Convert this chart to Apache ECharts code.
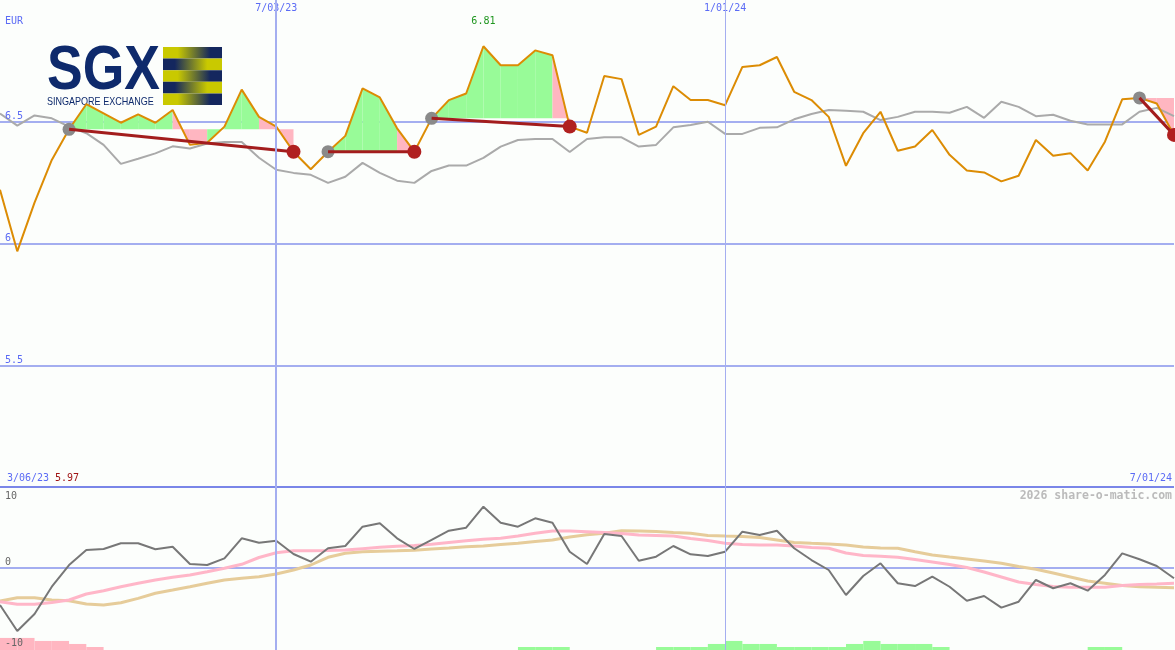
<!DOCTYPE html>
<html><head><meta charset="utf-8">
<script src="https://cdn.jsdelivr.net/npm/echarts@6/dist/echarts.min.js"></script>
<style>html,body{margin:0;padding:0;background:#fcfefc;}#c{width:1175px;height:650px;}</style>
</head><body><div id="c"></div>
<script>
// ---- data (weekly) ----
const DATES = ['3/13/23','3/20/23','3/27/23','4/03/23','4/10/23','4/17/23','4/24/23','5/01/23','5/08/23','5/15/23',
 '5/22/23','5/29/23','6/05/23','6/12/23','6/19/23','6/26/23','7/03/23','7/10/23','7/17/23','7/24/23',
 '7/31/23','8/07/23','8/14/23','8/21/23','8/28/23','9/04/23','9/11/23','9/18/23','9/25/23','10/02/23',
 '10/09/23','10/16/23','10/23/23','10/30/23','11/06/23','11/13/23','11/20/23','11/27/23','12/04/23','12/11/23',
 '12/18/23','12/25/23','1/01/24','1/08/24','1/15/24','1/22/24','1/29/24','2/05/24','2/12/24','2/19/24',
 '2/26/24','3/04/24','3/11/24','3/18/24','3/25/24','4/01/24','4/08/24','4/15/24','4/22/24','4/29/24',
 '5/06/24','5/13/24','5/20/24','5/27/24','6/03/24','6/10/24','6/17/24','6/24/24','7/01/24'];
const LABELLED_DATES = ['7/03/23','1/01/24'];
const PRICE = [6.221,5.968,6.168,6.343,6.469,6.572,6.534,6.496,6.530,6.496,
 6.548,6.405,6.414,6.480,6.632,6.520,6.480,6.377,6.305,6.377,
 6.442,6.637,6.600,6.473,6.377,6.514,6.589,6.616,6.810,6.732,
 6.732,6.793,6.773,6.480,6.455,6.688,6.675,6.446,6.480,6.646,
 6.589,6.589,6.568,6.725,6.732,6.766,6.623,6.589,6.520,6.319,
 6.453,6.541,6.381,6.398,6.466,6.364,6.300,6.292,6.255,6.278,
 6.425,6.360,6.371,6.300,6.418,6.592,6.598,6.575,6.446];
const PRICE_AVG = [6.534,6.484,6.526,6.514,6.480,6.453,6.405,6.327,6.348,6.370,
 6.399,6.390,6.411,6.417,6.417,6.352,6.303,6.290,6.282,6.249,
 6.274,6.331,6.290,6.258,6.249,6.298,6.320,6.320,6.352,6.398,
 6.425,6.429,6.429,6.376,6.429,6.436,6.436,6.398,6.405,6.477,
 6.487,6.500,6.450,6.450,6.475,6.477,6.510,6.532,6.548,6.545,
 6.541,6.507,6.520,6.541,6.541,6.537,6.561,6.516,6.582,6.561,
 6.523,6.529,6.504,6.489,6.489,6.489,6.541,6.557,6.523];
const OSC = [-4.66,-7.89,-5.78,-2.39,0.31,2.17,2.30,3.01,3.01,2.26,
 2.58,0.43,0.31,1.14,3.63,3.08,3.33,1.68,0.72,2.39,
 2.67,5.07,5.49,3.63,2.30,3.42,4.57,4.94,7.55,5.57,
 5.07,6.11,5.57,1.96,0.43,4.16,3.91,0.84,1.34,2.67,
 1.64,1.43,1.96,4.45,4.04,4.57,2.39,0.93,-0.31,-3.42,
 -1.06,0.52,-1.96,-2.30,-1.14,-2.39,-4.12,-3.54,-4.99,-4.25,
 -1.55,-2.58,-1.96,-2.88,-0.93,1.76,1.02,0.19,-1.34];
const OSC_FAST = [-4.25,-4.57,-4.57,-4.35,-4.04,-3.29,-2.88,-2.39,-1.96,-1.55,
 -1.22,-0.93,-0.52,-0.10,0.40,1.24,1.84,2.09,2.09,2.11,
 2.17,2.34,2.51,2.63,2.73,2.88,3.11,3.33,3.50,3.63,
 3.91,4.25,4.53,4.53,4.45,4.35,4.22,4.04,3.98,3.91,
 3.60,3.35,3.01,2.86,2.80,2.80,2.67,2.48,2.39,1.80,
 1.49,1.40,1.27,0.99,0.68,0.37,0.00,-0.56,-1.18,-1.80,
 -2.11,-2.36,-2.46,-2.46,-2.46,-2.24,-2.11,-2.05,-1.96];
const OSC_SLOW = [-4.16,-3.75,-3.75,-4.04,-4.12,-4.53,-4.66,-4.37,-3.83,-3.20,
 -2.80,-2.39,-1.96,-1.55,-1.34,-1.14,-0.81,-0.31,0.31,1.27,
 1.76,1.96,2.02,2.07,2.15,2.30,2.42,2.58,2.67,2.86,
 3.01,3.23,3.42,3.79,4.07,4.25,4.57,4.53,4.47,4.35,
 4.25,3.98,3.91,3.85,3.73,3.42,3.11,3.01,2.92,2.80,
 2.55,2.42,2.39,1.96,1.55,1.30,1.06,0.81,0.52,0.12,
 -0.22,-0.68,-1.18,-1.68,-1.96,-2.24,-2.39,-2.46,-2.51];
// one value per weekly interval (i -> i+1); negative = pink, positive = green
const HIST = [-4,-4,-3,-3,-2,-1,0,0,0,0, 0,0,0,0,0,0,0,0,0,0,
 0,0,0,0,0,0,0,0,0,0, 1,1,1,0,0,0,0,0,1,1,
 1,2,3,2,2,1,1,1,1,2, 3,2,2,2,1,0,0,0,0,0,
 0,0,0,1,1,0,0,0];
// trades: [entry index, exit index]
const TRADES = [[4,17],[19,24],[25,33],[66,68]];
// intervals (start index) shaded as weakening inside a trade
const WEAK_INTERVALS = [10,11,15,16,23,32,66,67];
const CURRENCY = 'EUR';
const START_LABEL = '3/06/23';
const END_LABEL = '7/01/24';
const CREDIT = '2026 share-o-matic.com';

// ---- styles ----
const MONO = '"DejaVu Sans Mono", monospace';
const BLUE_TXT = '#5b6bf5';
const GRID_BLUE = '#a4aef0';
const GREEN_FILL = '#98fb98';
const PINK_FILL = '#ffb6c1';
const T = 'rgba(0,0,0,0)';

const chart = echarts.init(document.getElementById('c'), null, {renderer: 'canvas'});

const minPrice = Math.min(...PRICE);

const xAxisBase = {
  type: 'category', data: DATES, boundaryGap: false,
  axisLine: {show: false}, axisTick: {show: false}, splitLine: {show: false}
};

const vLines = [
  {xAxis: LABELLED_DATES[0], lineStyle: {width: 2}},
  {xAxis: LABELLED_DATES[1], lineStyle: {width: 1}}
];

const OSC_PX_PER_UNIT = 161 / 20;
const oscAxisBase = {type: 'value', gridIndex: 1, min: -20, max: 10, interval: 10, position: 'left', offset: 0,
  axisLine: {show: false}, axisTick: {show: false}, splitLine: {show: false}};
const oscLabel = {inside: true, margin: 5, color: '#666', fontFamily: MONO, fontSize: 10};

const option = {
  animation: false,
  backgroundColor: '#fcfefc',
  grid: [
    {left: 0, right: 1, top: 0, height: 487, containLabel: false, outerBoundsMode: 'none'},
    {left: 0, right: 1, top: 487, height: OSC_PX_PER_UNIT * 30, containLabel: false, outerBoundsMode: 'none'},
    {left: 0, right: 1, top: 487, height: 163, containLabel: false, outerBoundsMode: 'none'}
  ],
  xAxis: [
    Object.assign({}, xAxisBase, {gridIndex: 0, position: 'top',
      axisLabel: {show: true, inside: true, margin: 3, color: BLUE_TXT, fontFamily: MONO, fontSize: 10,
        interval: (i, v) => LABELLED_DATES.indexOf(v) >= 0}}),
    Object.assign({}, xAxisBase, {gridIndex: 1, axisLabel: {show: false}}),
    Object.assign({}, xAxisBase, {gridIndex: 2, axisLabel: {show: false}})
  ],
  yAxis: [
    {type: 'value', gridIndex: 0, min: 5, max: 7, interval: 0.5, z: 10,
      axisLine: {show: false}, axisTick: {show: false},
      axisLabel: {inside: true, margin: 5, color: BLUE_TXT, fontFamily: MONO, fontSize: 10,
        verticalAlign: 'bottom', showMinLabel: false, showMaxLabel: false},
      splitLine: {show: false}},
    // grid lines of the price panel (drawn beneath the series)
    {type: 'value', gridIndex: 0, min: 5, max: 7, interval: 0.5, z: 0, position: 'left', offset: 0,
      axisLine: {show: false}, axisTick: {show: false}, axisLabel: {show: false},
      splitLine: {show: true, lineStyle: {width: 2, color: ['#7a86e8', GRID_BLUE, GRID_BLUE, GRID_BLUE, T]}}},
    // oscillator grid line (zero)
    Object.assign({}, oscAxisBase, {z: 0, axisLabel: {show: false},
      splitLine: {show: true, lineStyle: {width: 2, color: [T, T, GRID_BLUE, T]}}}),
    // oscillator labels 0 and -10 (above their lines)
    Object.assign({}, oscAxisBase, {z: 10,
      axisLabel: Object.assign({}, oscLabel, {verticalAlign: 'bottom', showMinLabel: false,
        formatter: v => (v === 10 || v === -20) ? '' : String(v)})}),
    // oscillator label 10 (below the panel edge)
    Object.assign({}, oscAxisBase, {z: 10,
      axisLabel: Object.assign({}, oscLabel, {verticalAlign: 'top', padding: [4, 0, 0, 0], showMaxLabel: true,
        formatter: v => v === 10 ? '10' : ''})}),
    {type: 'value', gridIndex: 2, min: 0, max: 54, show: false, splitLine: {show: false}}
  ],
  series: [
    // trade fills
    {type: 'custom', xAxisIndex: 0, yAxisIndex: 0, z: 1, silent: true,
      data: TRADES.map(t => [t[0], t[1]]),
      encode: {x: [0, 1]},
      renderItem: function (params, api) {
        const s = api.value(0), e = api.value(1);
        const entry = PRICE[s];
        const children = [];
        for (let k = s; k < e; k++) {
          const pts = [api.coord([k, entry]), api.coord([k, PRICE[k]]),
                       api.coord([k + 1, PRICE[k + 1]]), api.coord([k + 1, entry])];
          children.push({type: 'polygon', shape: {points: pts},
            style: {fill: WEAK_INTERVALS.indexOf(k) >= 0 ? PINK_FILL : GREEN_FILL, stroke: null}});
        }
        return {type: 'group', children: children};
      }},
    // moving average
    {type: 'line', xAxisIndex: 0, yAxisIndex: 0, z: 2, data: PRICE_AVG, symbol: 'none',
      lineStyle: {color: '#aaaaaa', width: 2},
      markLine: {silent: true, symbol: 'none', label: {show: false},
        lineStyle: {color: GRID_BLUE, type: 'solid'}, data: vLines}},
    // price
    {type: 'line', xAxisIndex: 0, yAxisIndex: 0, z: 3, data: PRICE, symbol: 'none',
      lineStyle: {color: '#dc8c04', width: 2},
      markPoint: {symbol: 'circle', symbolSize: 0, silent: true,
        label: {show: true, position: 'top', distance: 20, color: '#1f961f', fontFamily: MONO, fontSize: 10,
          formatter: p => p.value.toFixed(2)},
        data: [{type: 'max'}]}},
    // trade lines & markers
    {type: 'custom', xAxisIndex: 0, yAxisIndex: 0, z: 4, silent: true,
      data: TRADES.map(t => [t[0], t[1]]),
      encode: {x: [0, 1]},
      renderItem: function (params, api) {
        const s = api.value(0), e = api.value(1);
        const a = api.coord([s, PRICE[s]]), b = api.coord([e, PRICE[e]]);
        return {type: 'group', children: [
          {type: 'circle', shape: {cx: a[0], cy: a[1], r: 6.5}, style: {fill: '#8a8a8a'}},
          {type: 'line', shape: {x1: a[0], y1: a[1], x2: b[0], y2: b[1]}, style: {stroke: '#a31d1d', lineWidth: 3}},
          {type: 'circle', shape: {cx: b[0], cy: b[1], r: 7}, style: {fill: '#b02020'}}
        ]};
      }},
    // histogram (bottom)
    {type: 'custom', xAxisIndex: 2, yAxisIndex: 5, z: 1, silent: true,
      data: HIST.map((v, i) => [i, v]),
      encode: {x: 0, y: 1},
      renderItem: function (params, api) {
        const i = api.value(0), v = api.value(1);
        if (!v) return null;
        const a = api.coord([i, 0]), b = api.coord([i + 1, Math.abs(v)]);
        return {type: 'rect', shape: {x: a[0], y: b[1], width: b[0] - a[0], height: a[1] - b[1]},
          style: {fill: v < 0 ? PINK_FILL : GREEN_FILL}};
      }},
    // oscillator slow / fast / main
    {type: 'line', xAxisIndex: 1, yAxisIndex: 2, z: 2, data: OSC_SLOW, symbol: 'none',
      lineStyle: {color: '#e6cc9a', width: 3},
      markLine: {silent: true, symbol: 'none', label: {show: false},
        lineStyle: {color: GRID_BLUE, type: 'solid'}, data: vLines}},
    {type: 'line', xAxisIndex: 1, yAxisIndex: 2, z: 3, data: OSC_FAST, symbol: 'none',
      lineStyle: {color: '#ffb6c8', width: 3}},
    {type: 'line', xAxisIndex: 1, yAxisIndex: 2, z: 4, data: OSC, symbol: 'none',
      lineStyle: {color: '#777777', width: 2}}
  ],
  graphic: [
    {type: 'text', x: 5, y: 16, z: 10, style: {text: CURRENCY, font: '10px ' + MONO, fill: BLUE_TXT}},
    {type: 'text', x: 7, y: 473, z: 10, style: {text: START_LABEL, font: '10px ' + MONO, fill: BLUE_TXT}},
    {type: 'text', x: 55, y: 473, z: 10, style: {text: minPrice.toFixed(2), font: '10px ' + MONO, fill: '#a01515'}},
    {type: 'text', x: 1172, y: 473, z: 10, style: {text: END_LABEL, font: '10px ' + MONO, fill: BLUE_TXT, align: 'right'}},
    {type: 'text', x: 1172, y: 490, z: 10, style: {text: CREDIT, font: 'bold 11.5px ' + MONO, fill: '#bbbbbb', align: 'right'}},
    // logo
    {type: 'group', x: 47, y: 40, z: 10, children: [
      {type: 'text', x: 0, y: 0, scaleX: 0.85, style: {text: 'SGX', font: 'bold 63px "Liberation Sans"', fill: '#0e2a6c'}},
      {type: 'text', x: 0, y: 56, scaleX: 0.82, style: {text: 'SINGAPORE EXCHANGE', font: '11px "Liberation Sans"', fill: '#0e2a6c'}},
      ...[0,1,2,3,4].map(k => ({type: 'rect', shape: {x: 116, y: 7 + k * 11.6, width: 59, height: 11.6},
        style: {fill: new echarts.graphic.LinearGradient(0, 0, 1, 0,
          k % 2 === 0
            ? [{offset: 0, color: '#c9c900'}, {offset: 0.25, color: '#c9c900'}, {offset: 0.8, color: '#14275e'}, {offset: 1, color: '#14275e'}]
            : [{offset: 0, color: '#14275e'}, {offset: 0.2, color: '#14275e'}, {offset: 0.75, color: '#c9c900'}, {offset: 1, color: '#c9c900'}])}}))
    ]}
  ]
};
chart.setOption(option);
</script></body></html>
